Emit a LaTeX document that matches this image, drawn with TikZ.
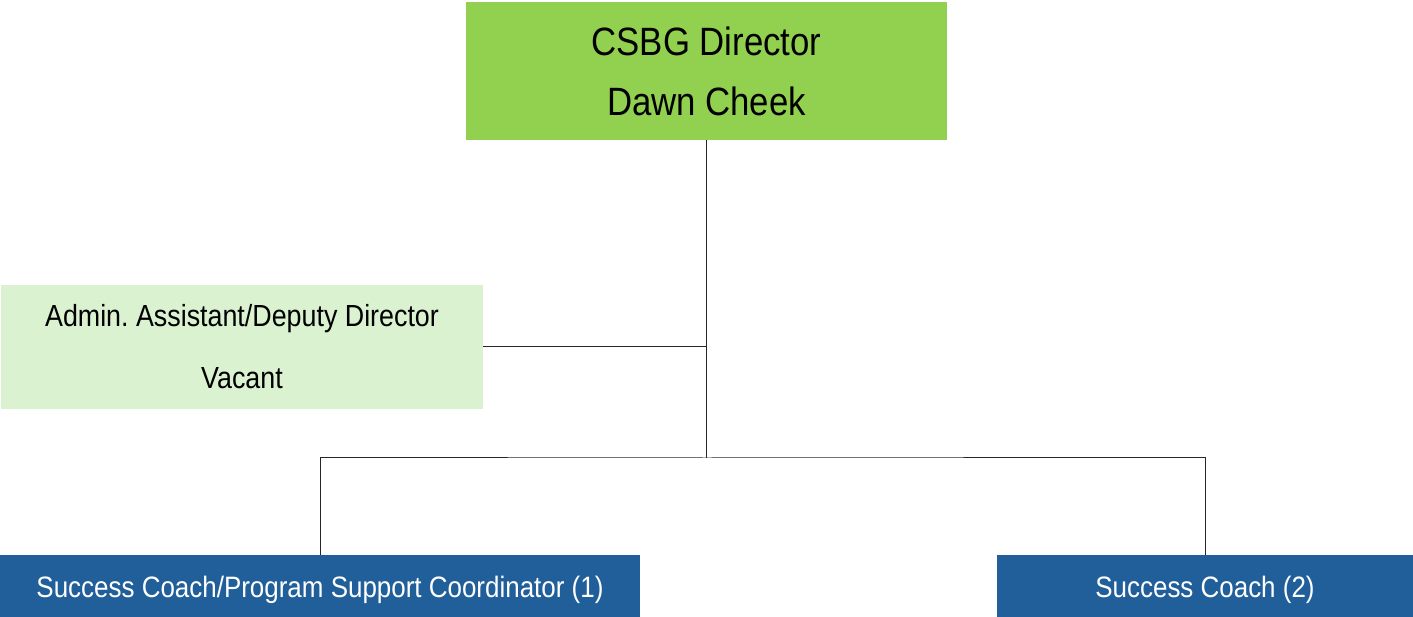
\documentclass[tikz,border=0pt]{standalone}
\usepackage{fontspec}
\setmainfont[FakeStretch=0.88]{Liberation Sans}
\usepackage{xcolor}
\definecolor{headgreen}{HTML}{92D050}
\definecolor{palegreen}{HTML}{DAF2D0}
\definecolor{coachblue}{HTML}{215F9A}
\frenchspacing

\begin{document}
\begin{tikzpicture}[x=1pt, y=1pt,
        line/.style = {draw, black!85, line width=1pt},
        head/.style = {fill=headgreen, minimum width=481pt, minimum height=138pt, inner sep=0pt, align=center, font=\fontsize{39.5}{60}\selectfont},
        admin/.style = {fill=palegreen, minimum width=482pt, minimum height=124pt, inner sep=0pt, align=center, font=\fontsize{30.5}{62}\selectfont},
        coach/.style = {fill=coachblue, text=white, minimum height=62pt, inner sep=0pt, text height=30pt, text depth=6pt, font=\fontsize{29.5}{36}\selectfont}]
        \useasboundingbox (0,0) rectangle (1413,617);

        \node[head] (director) at (706.5,546) {CSBG Director\\Dawn Cheek};
        \node[admin] (assistant) at (242,270) {Admin. Assistant/Deputy Director\\Vacant};
        \node[coach, minimum width=640pt] (coach1) at (320,31) {Success Coach/Program Support Coordinator (1)};
        \node[coach, minimum width=416pt] (coach2) at (1205,31) {Success Coach (2)};
        \coordinate (fork) at (706.5,159);

        \draw[line] (director) -- (fork);
        \draw[line] (assistant) -- (assistant -| fork);
        \draw[line] (coach1) |- (fork) -| (coach2);

    \end{tikzpicture}
\end{document}
